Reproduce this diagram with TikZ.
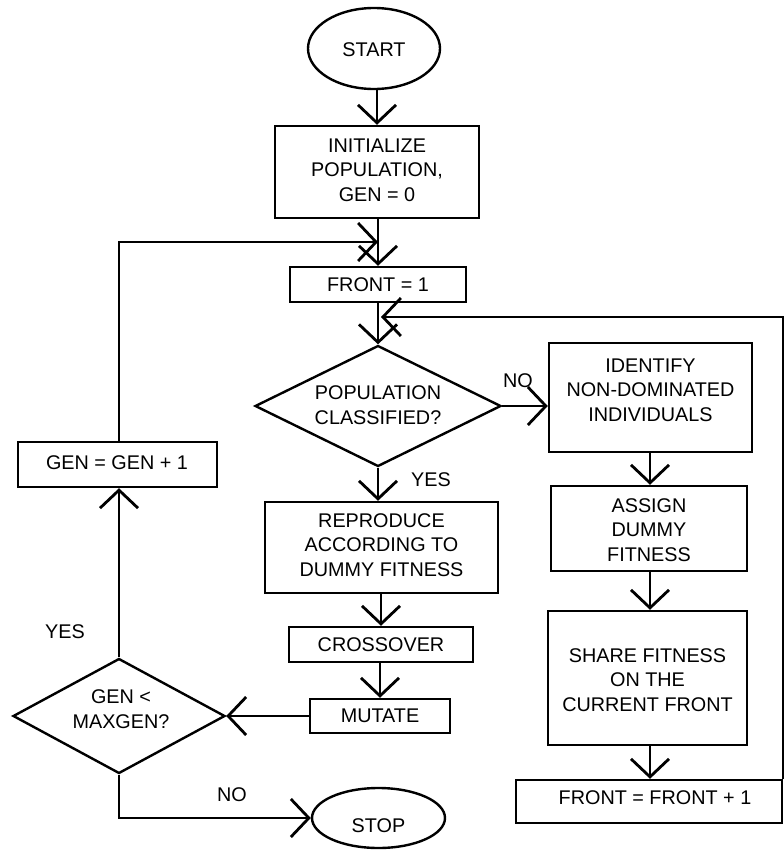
\documentclass[tikz,border=0pt]{standalone}
\usepackage{fontspec}
\setmainfont{Liberation Sans}
\usetikzlibrary{shapes.geometric, arrows.meta}
\begin{document}
\begin{tikzpicture}[x=1pt,y=-1pt,
  box/.style={draw, line width=2.4pt, rectangle, inner sep=0pt},
  txt/.style={align=center, font=\fontsize{19.8}{24.5}\selectfont, inner sep=0pt},
  dec/.style={draw, line width=2.4pt, diamond, inner sep=0pt},
  term/.style={draw, line width=2.4pt, ellipse, inner sep=0pt},
  arr/.style={line width=2.8pt, -{Straight Barb[length=18pt,width=38pt,line width=2.8pt]}},
  lbl/.style={font=\fontsize{19.8}{24.5}\selectfont, inner sep=0pt}]
\useasboundingbox (0,0) rectangle (784,852);

% terminals
\node[term, minimum width=132pt, minimum height=81pt] (start) at (374,48.5) {};
\node[txt] (starttxt) at (374,50) {START};
\node[term, minimum width=133pt, minimum height=60pt] (stop) at (378.5,818) {};
\node[txt] (stoptxt) at (378.5,826) {STOP};

% main column boxes
\node[box, minimum width=204pt, minimum height=92pt] (init) at (377,172) {};
\node[txt] (inittxt) at (377,170) {INITIALIZE\\POPULATION,\\GEN = 0};
\node[box, minimum width=176pt, minimum height=35pt] (front1) at (378,284.5) {};
\node[txt] (front1txt) at (378,285) {FRONT = 1};
\node[dec, minimum width=246pt, minimum height=121pt] (dia1) at (378,406) {};
\node[txt] (dia1txt) at (378,405) {POPULATION\\CLASSIFIED?};
\node[box, minimum width=233pt, minimum height=91pt] (repro) at (381.5,547.5) {};
\node[txt] (reprotxt) at (381.5,545) {REPRODUCE\\ACCORDING TO\\DUMMY FITNESS};
\node[box, minimum width=184pt, minimum height=35pt] (cross) at (381,644.5) {};
\node[txt] (crosstxt) at (381,645) {CROSSOVER};
\node[box, minimum width=140pt, minimum height=34pt] (mutate) at (380,716) {};
\node[txt] (mutatetxt) at (380,716) {MUTATE};

% left column
\node[box, minimum width=199pt, minimum height=45pt] (gen) at (117.5,464.5) {};
\node[txt] (gentxt) at (117,463) {GEN = GEN + 1};
\node[dec, minimum width=212pt, minimum height=115pt] (dia2) at (119,716) {};
\node[txt] (dia2txt) at (121,709) {GEN <\\MAXGEN?};

% right column
\node[box, minimum width=203pt, minimum height=109pt] (ident) at (650.5,397.5) {};
\node[txt] (identtxt) at (650.5,390) {IDENTIFY\\NON-DOMINATED\\INDIVIDUALS};
\node[box, minimum width=196pt, minimum height=85pt] (assign) at (649,528.5) {};
\node[txt] (assigntxt) at (649,530) {ASSIGN\\DUMMY\\FITNESS};
\node[box, minimum width=199pt, minimum height=134pt] (share) at (647.5,678) {};
\node[txt] (sharetxt) at (647.5,680) {SHARE FITNESS\\ON THE\\CURRENT FRONT};
\node[box, minimum width=266pt, minimum height=43pt] (front2) at (649,801.5) {};
\node[txt] (front2txt) at (655,798) {FRONT = FRONT + 1};

% labels
\node[lbl] (no1) at (518,381) {NO};
\node[lbl] (yes1) at (431,480) {YES};
\node[lbl] (yes2) at (65,632) {YES};
\node[lbl] (no2) at (232,795) {NO};

% join points
\coordinate (j1) at (378,242);
\coordinate (j2) at (381,317);

% connectors
\draw[arr] (start.south -| init.north) -- (init.north);
\draw[arr] (init.south -| front1.north) -- (front1.north);
\draw[arr] (front1.south) -- (dia1.north);
\draw[arr] (dia1.east) -- (dia1.east -| ident.west);
\draw[arr] (dia1.south) -- (dia1.south |- repro.north);
\draw[arr] (repro.south -| cross.north) -- (cross.north);
\draw[arr] (cross.south -| mutate.north) -- (mutate.north);
\draw[arr] (mutate.west) -- (dia2.east);
\draw[arr] (dia2.north) -- (dia2.north |- gen.south);
\draw[arr] (gen.north -| dia2.north) -- (dia2.north |- j1) -- (j1);
\draw[arr] (dia2.south) |- (stop.west);
\draw[arr] (ident.south -| 650,0) -- (650,0 |- assign.north);
\draw[arr] (assign.south -| 650,0) -- (650,0 |- share.north);
\draw[arr] (share.south -| 650,0) -- (650,0 |- front2.north);
\draw[arr] (front2.north east) -- (front2.north east |- j2) -- (j2);
\end{tikzpicture}
\end{document}
